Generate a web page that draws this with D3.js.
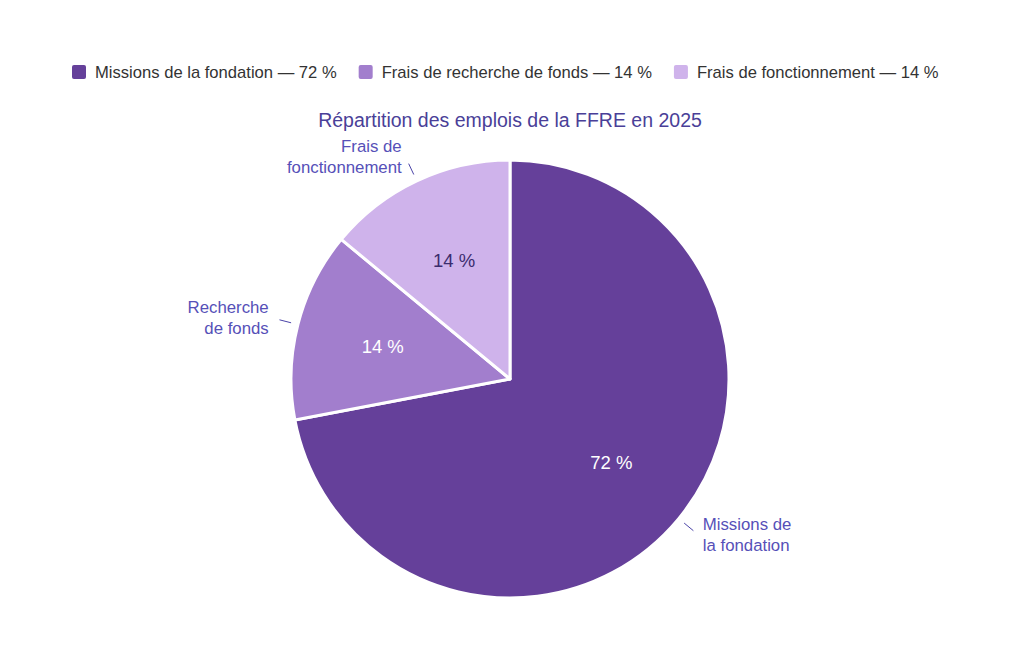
<!DOCTYPE html>
<html>
<head>
<meta charset="utf-8">
<script src="https://cdn.jsdelivr.net/npm/d3@7"></script>
<style>
  body { margin: 0; background: #fff; }
  svg { font-family: "Liberation Sans", Arial, Helvetica, sans-serif; }
</style>
</head>
<body>
<svg id="chart" width="1024" height="660"></svg>
<script>
// chart data
var categories = ["Missions de la fondation", "Frais de recherche de fonds", "Frais de fonctionnement"]
var values = [72, 14, 14]
var outerLabels = [["Missions de", "la fondation"], ["Recherche", "de fonds"], ["Frais de", "fonctionnement"]]
var colors = ["#65409a", "#a27ecd", "#cfb3eb"]
var innerTextColors = ["#ffffff", "#ffffff", "#3b2c6e"]
var title = "Répartition des emplois de la FFRE en 2025"

var width = 1024, height = 660
var cx = 510, cy = 379, radius = 219

var svg = d3.select("#chart")

// legend
var legend = svg.append("g").attr("class", "legend")
var lx = 72
categories.forEach(function(c, i) {
    var g = legend.append("g").attr("transform", "translate(" + lx + ",65)")
    g.append("rect")
        .attr("width", 14).attr("height", 14)
        .attr("rx", 2)
        .attr("fill", colors[i])
    var t = g.append("text")
        .attr("x", 23).attr("y", 13)
        .attr("font-size", 16.6)
        .attr("fill", "#333")
        .text(c + " — " + values[i] + " %")
    lx += 23 + t.node().getComputedTextLength() + 22
})

// title
svg.append("text")
    .attr("x", cx).attr("y", 127)
    .attr("text-anchor", "middle")
    .attr("font-size", 19.5)
    .attr("fill", "#4a3f98")
    .text(title)

var pie = d3.pie().sort(null).value(function(d) { return d })
var arcs = pie(values)

var arc = d3.arc().innerRadius(0).outerRadius(radius)
var inner = d3.arc().innerRadius(radius * 0.6).outerRadius(radius * 0.6)

var plot = svg.append("g").attr("transform", "translate(" + cx + "," + cy + ")")

plot.selectAll("path.slice")
    .data(arcs)
    .enter().append("path")
    .attr("class", "slice")
    .attr("d", arc)
    .attr("fill", function(d, i) { return colors[i] })
    .attr("stroke", "white")
    .attr("stroke-width", 3)
    .attr("stroke-linejoin", "round")

// percentages inside
plot.selectAll("text.pct")
    .data(arcs)
    .enter().append("text")
    .attr("class", "pct")
    .attr("transform", function(d) { return "translate(" + inner.centroid(d) + ")" })
    .attr("text-anchor", "middle")
    .attr("dy", "0.35em")
    .attr("font-size", 18.5)
    .attr("fill", function(d, i) { return innerTextColors[i] })
    .text(function(d) { return d.data + " %" })

// outer labels with short ticks
function polar(a, r) { return [Math.sin(a) * r, -Math.cos(a) * r] }

arcs.forEach(function(d, i) {
    var a = (d.startAngle + d.endAngle) / 2
    var p0 = polar(a, radius + 7), p1 = polar(a, radius + 19)
    plot.append("line")
        .attr("x1", p0[0]).attr("y1", p0[1])
        .attr("x2", p1[0]).attr("y2", p1[1])
        .attr("stroke", "#4b44a8")
        .attr("stroke-width", 1)

    var right = Math.sin(a) > 0
    var pl = polar(a, radius + 26)
    var lines = outerLabels[i]
    var lh = 21
    var t = plot.append("text")
        .attr("text-anchor", right ? "start" : "end")
        .attr("font-size", 16.8)
        .attr("fill", "#5650b8")
    lines.forEach(function(s, j) {
        t.append("tspan")
            .attr("x", pl[0] + (right ? 4 : -4))
            .attr("y", pl[1] - (lines.length - 1) * lh / 2 + j * lh)
            .attr("dy", "0.33em")
            .text(s)
    })
})
</script>
</body>
</html>
